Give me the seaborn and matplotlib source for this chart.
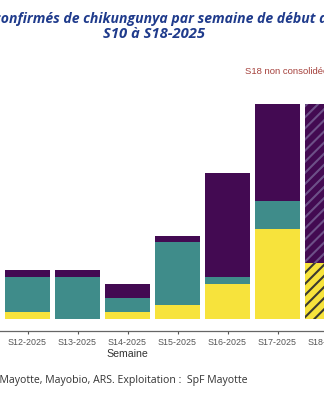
import matplotlib
matplotlib.use("Agg")
import matplotlib.pyplot as plt
import seaborn as sns
import pandas as pd

# Weekly confirmed chikungunya cases, stacked by case status
semaines = ["S12-2025", "S13-2025", "S14-2025", "S15-2025",
            "S16-2025", "S17-2025", "S18-2025"]
autochtones = [1, 0, 1, 2, 5, 13, 8]
importes = [5, 6, 2, 9, 1, 4, 0]
investigation = [1, 1, 2, 1, 15, 14, 23]
semaine_non_consolidee = "S18-2025"

titre_1 = "Nombre de cas confirmés de chikungunya par semaine de début des signes,"
titre_2 = "S10 à S18-2025"
note = "S18 non consolidée"
source = "Source : CHM Mayotte, Mayobio, ARS. Exploitation :  SpF Mayotte"

JAUNE = "#f7e33c"
SARCELLE = "#3f8c8a"
VIOLET = "#430a52"

sns.set_theme(style="white")
plt.rcParams["hatch.linewidth"] = 1.5

df = pd.DataFrame({
    "semaine": semaines,
    "autochtones": autochtones,
    "importes": importes,
    "investigation": investigation,
})
df["cumul_importes"] = df["autochtones"] + df["importes"]
df["cumul_total"] = df["cumul_importes"] + df["investigation"]

W, H = 324, 400
fig = plt.figure(figsize=(W / 100, H / 100), dpi=100)
# axes extend beyond the figure edges (the chart is shown partially)
ax_left, ax_right = -102.5, 357.5
ax_bottom_px, ax_top_px = 331.0, 93.0
ax = fig.add_axes([ax_left / W, 1 - ax_bottom_px / H,
                   (ax_right - ax_left) / W, (ax_bottom_px - ax_top_px) / H])

couches = [("cumul_total", VIOLET, "#6d5088"),
           ("cumul_importes", SARCELLE, "#2a5f5e"),
           ("autochtones", JAUNE, "#3b3a30")]
idx_nc = semaines.index(semaine_non_consolidee)
for col, couleur, couleur_hachure in couches:
    n0 = len(ax.patches)
    sns.barplot(data=df, x="semaine", y=col, order=semaines, color=couleur,
                saturation=1, width=0.9, errorbar=None, ax=ax, linewidth=0)
    p = ax.patches[n0 + idx_nc]
    p.set_hatch("///")
    p.set_edgecolor(couleur_hachure)
    p.set_linewidth(0)

ax.set_xlim(-2.6, 6.6)
ax.set_ylim(-1.8, 32.6)
ax.set_yticks([])
ax.set_ylabel("")
ax.set_xlabel("Semaine", fontsize=7.6, color="#333333",
              fontfamily="Liberation Sans", labelpad=1.5)
ax.tick_params(axis="x", bottom=True, length=2.5, width=0.8,
               color="#555555", labelsize=6.4, labelcolor="#555555", pad=2.2)
for lab in ax.get_xticklabels():
    lab.set_fontfamily("Liberation Sans")
sns.despine(ax=ax, left=True)
ax.spines["bottom"].set_color("#666666")
ax.spines["bottom"].set_linewidth(0.9)

def px(x, y):
    return x / W, 1 - y / H

titre_font = dict(fontfamily="Open Sans", fontweight="bold", fontstyle="italic",
                  color="#1f3b8c")

# first title line: place it so the word "confirmés" starts at the left edge
renderer = fig.canvas.get_renderer()
prefixe = fig.text(0, 0, "Nombre de cas c", fontsize=10.1, **titre_font)
w_prefixe = prefixe.get_window_extent(renderer).width
prefixe.remove()
fig.text((-w_prefixe + 0.5) / W, 1 - 19 / H, titre_1, fontsize=10.1,
         ha="left", va="center", **titre_font)
fig.text(*px(154, 34), titre_2, fontsize=10.6, ha="center", va="center",
         **titre_font)

fig.text(*px(245, 72), note, ha="left", va="center",
         fontsize=6.8, color="#a5413c", fontfamily="Liberation Sans")

fig.text(*px(247, 380), source, ha="right", va="center", fontsize=7.6,
         color="#333333", fontfamily="Open Sans")

fig.savefig("out.png", dpi=100)
